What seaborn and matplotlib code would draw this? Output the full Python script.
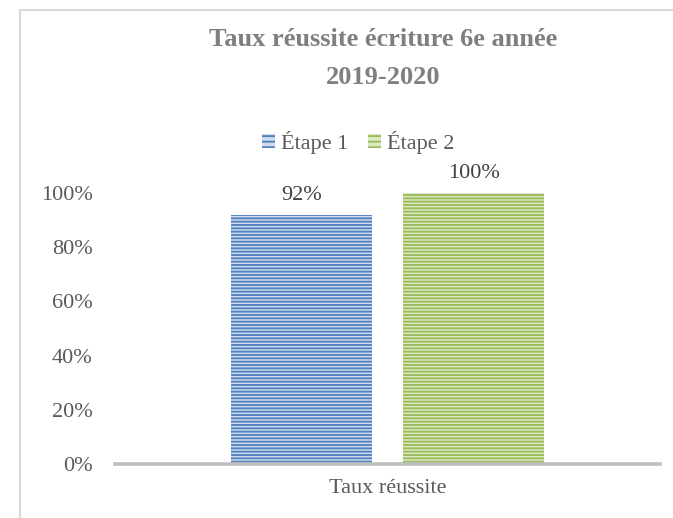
import matplotlib
matplotlib.use("Agg")
import matplotlib.pyplot as plt
from matplotlib.patches import Patch, Rectangle
import seaborn as sns
import pandas as pd

# ---- data ----
categories = ["Taux réussite"]
series_names = ["Étape 1", "Étape 2"]
etape1 = [0.92]
etape2 = [1.00]
yticks = [0.0, 0.2, 0.4, 0.6, 0.8, 1.0]
title_line1 = "Taux réussite écriture 6e année"
title_line2 = "2019-2020"

colors = ["#4F81BD", "#9BBB59"]
light = ["#D0DCEE", "#DCE9C6"]

df = pd.DataFrame({
    "cat": categories * 2,
    "serie": [series_names[0]] * len(etape1) + [series_names[1]] * len(etape2),
    "val": etape1 + etape2,
})

sns.set_theme(style="white")
plt.rcParams["font.family"] = ["Liberation Serif", "DejaVu Serif"]
plt.rcParams["hatch.linewidth"] = 1.35

W, H = 673, 518
fig = plt.figure(figsize=(W / 100, H / 100), dpi=100)
ax = fig.add_axes([115 / W, 1 - 464 / H, 545 / W, 271 / H])

sns.barplot(data=df, x="cat", y="val", hue="serie", palette=colors,
            width=0.632, gap=0.177, ax=ax, legend=False, errorbar=None)

for i, cont in enumerate(ax.containers):
    for bar in cont:
        bar.set_facecolor(light[i])
        bar.set_edgecolor(colors[i])
        bar.set_linewidth(0)
        bar.set_hatch("-----")
    ax.bar_label(cont, labels=[f"{v:.0%}" for v in cont.datavalues],
                 padding=7, fontsize=16, color="#404040", clip_on=False)

ax.set_xlim(-0.5, 0.5)
ax.set_ylim(0, 1.0)
ax.set_yticks(yticks)
ax.set_yticklabels([f"{t:.0%}" for t in yticks])
ax.set_xlabel("")
ax.set_ylabel("")
ax.tick_params(axis="y", length=0, pad=16, labelsize=16, labelcolor="#595959")
ax.tick_params(axis="x", length=0, pad=11, labelsize=16, labelcolor="#595959")
for s in ["left", "right", "top"]:
    ax.spines[s].set_visible(False)
ax.spines["bottom"].set_color("#BFBFBF")
ax.spines["bottom"].set_linewidth(2.6)
ax.grid(False)

# legend
handles = [Patch(facecolor=light[i], edgecolor=colors[i], hatch="---", linewidth=0)
           for i in range(2)]
fig.legend(handles, series_names, loc="center", bbox_to_anchor=(358 / W, 1 - 142 / H),
           ncol=2, frameon=False, fontsize=16, handlelength=0.6, handleheight=0.6,
           handletextpad=0.25, columnspacing=0.9, labelcolor="#595959")

# title
fig.text(383 / W, 1 - 40 / H, title_line1, ha="center", va="center",
         fontsize=19, fontweight="bold", color="#7F7F7F")
fig.text(383 / W, 1 - 78 / H, title_line2, ha="center", va="center",
         fontsize=19, fontweight="bold", color="#7F7F7F")

# chart area border
fig.patches.append(Rectangle((20 / W, -0.5), 2.0, 1 - 10 / H + 0.5,
                             transform=fig.transFigure, fill=False,
                             edgecolor="#D9D9D9", linewidth=1.5))

fig.savefig("out.png", dpi=100)
